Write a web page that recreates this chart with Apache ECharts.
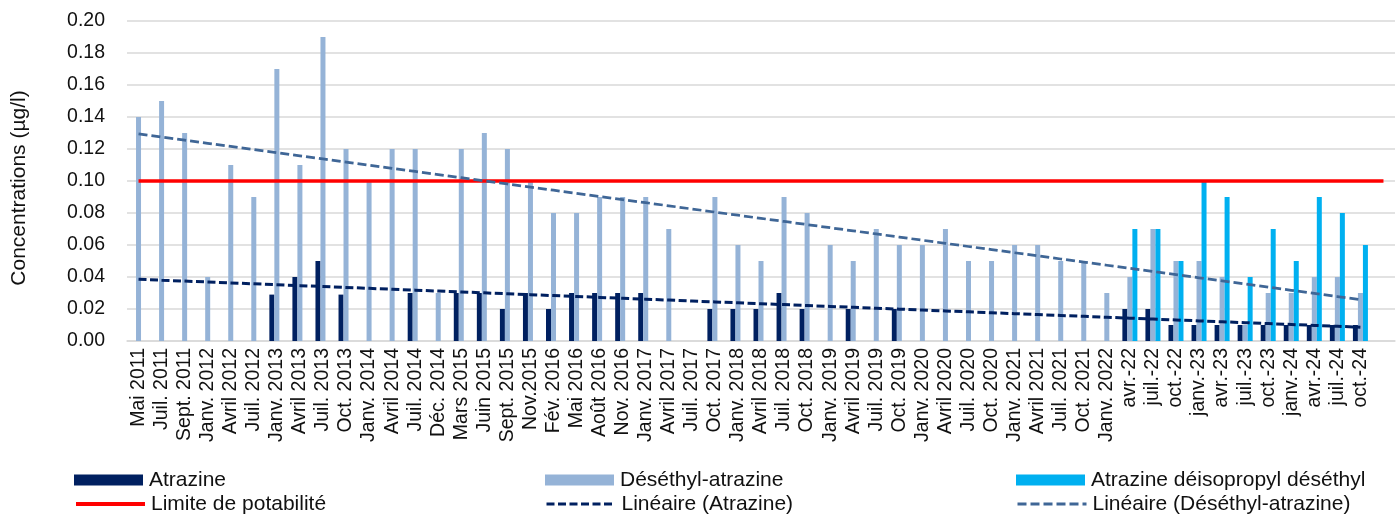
<!DOCTYPE html>
<html>
<head>
<meta charset="utf-8">
<script src="https://cdn.jsdelivr.net/npm/echarts@6/dist/echarts.min.js"></script>
<style>
  html, body { margin: 0; padding: 0; background: #fff; }
  #chart { width: 1400px; height: 514px; }
</style>
</head>
<body>
<div id="chart"></div>
<script>
// dates de prélèvement
const categories = ['Mai 2011','Juil. 2011','Sept. 2011','Janv. 2012','Avril 2012','Juil. 2012','Janv. 2013','Avril 2013','Juil. 2013','Oct. 2013',
  'Janv. 2014','Avril 2014','Juil. 2014','Déc. 2014','Mars 2015','Juin 2015','Sept. 2015','Nov.2015','Fév. 2016','Mai 2016',
  'Août 2016','Nov. 2016','Janv. 2017','Avril 2017','Juil. 2017','Oct. 2017','Janv. 2018','Avril 2018','Juil. 2018','Oct. 2018',
  'Janv. 2019','Avril 2019','Juil. 2019','Oct. 2019','Janv. 2020','Avril 2020','Juil. 2020','Oct. 2020','Janv. 2021','Avril 2021',
  'Juil. 2021','Oct. 2021','Janv. 2022','avr.-22','juil.-22','oct.-22','janv.-23','avr.-23','juil.-23','oct.-23',
  'janv.-24','avr.-24','juil.-24','oct.-24'];

// concentrations en µg/l (null = pas de valeur)
const atrazine = [null,null,null,null,null,null,0.029,0.04,0.05,0.029,
  null,null,0.03,null,0.03,0.03,0.02,0.03,0.02,0.03,
  0.03,0.03,0.03,null,null,0.02,0.02,0.02,0.03,0.02,
  null,0.02,null,0.02,null,null,null,null,null,null,
  null,null,null,0.02,0.02,0.01,0.01,0.01,0.01,0.01,
  0.01,0.01,0.01,0.01];

const desethylAtrazine = [0.14,0.15,0.13,0.04,0.11,0.09,0.17,0.11,0.19,0.12,
  0.10,0.12,0.12,0.03,0.12,0.13,0.12,0.10,0.08,0.08,
  0.09,0.09,0.09,0.07,null,0.09,0.06,0.05,0.09,0.08,
  0.06,0.05,0.07,0.06,0.06,0.07,0.05,0.05,0.06,0.06,
  0.05,0.05,0.03,0.04,0.07,0.05,0.05,0.04,0.01,0.03,
  0.03,0.04,0.04,0.03];

const atrazineDeisopropylDesethyl = [null,null,null,null,null,null,null,null,null,null,
  null,null,null,null,null,null,null,null,null,null,
  null,null,null,null,null,null,null,null,null,null,
  null,null,null,null,null,null,null,null,null,null,
  null,null,null,0.07,0.07,0.05,0.10,0.09,0.04,0.07,
  0.05,0.09,0.08,0.06];

const limitePotabilite = 0.1;
const yTicks = { min: 0, max: 0.2, interval: 0.02 };

// l'axe a une case vide en plus à droite (comme le graphique Excel)
const axisCategories = categories.concat(['']);

// tendance linéaire (moindres carrés sur l'indice, cases vides ignorées)
function linearTrend(values) {
  let n = 0, sx = 0, sy = 0, sxx = 0, sxy = 0;
  values.forEach((v, i) => {
    if (v == null) return;
    n++; sx += i; sy += v; sxx += i * i; sxy += i * v;
  });
  let slope = (n * sxy - sx * sy) / (n * sxx - sx * sx);
  let intercept = (sy - slope * sx) / n;
  return values.map((v, i) => intercept + slope * i);
}

let chart = echarts.init(document.getElementById('chart'));

const FONT = '"Liberation Sans", Arial, sans-serif';
const NAVY = '#002060';
const LIGHT = '#95B3D7';
const CYAN = '#00B0F0';
const TREND2 = '#3F6696';

function legendAt(name, left, top, icon, lineWidth) {
  let legend = {
    data: [{ name: name }],
    left: left,
    top: top,
    padding: 0,
    itemWidth: 69,
    itemHeight: 11,
    itemGap: 0,
    selectedMode: false,
    textStyle: { fontFamily: FONT, fontSize: 21, color: '#111', lineHeight: 22, padding: [0, 0, 0, 1] }
  };
  if (icon) {
    legend.data[0].icon = icon;
  } else {
    // ligne seule, sans symbole
    legend.itemStyle = { opacity: 0 };
    legend.lineStyle = { width: lineWidth };
  }
  return legend;
}

let option = {
  animation: false,
  backgroundColor: '#fff',
  grid: { left: 127, right: 5, top: 21, bottom: 173 },
  legend: [
    legendAt('Atrazine', 74, 469, 'rect'),
    legendAt('Déséthyl-atrazine', 545, 469, 'rect'),
    legendAt('Atrazine déisopropyl déséthyl', 1016, 469, 'rect'),
    legendAt('Limite de potabilité', 74, 493, null, 4),
    legendAt('Linéaire (Atrazine)', 545, 493, null, 3),
    legendAt('Linéaire (Déséthyl-atrazine)', 1016, 493, null, 3)
  ],
  xAxis: {
    type: 'category',
    data: axisCategories,
    boundaryGap: true,
    axisTick: { show: false },
    axisLine: { lineStyle: { color: '#D9D9D9', width: 1.5 } },
    axisLabel: {
      interval: 0,
      rotate: 90,
      margin: 7,
      fontFamily: FONT,
      fontSize: 19.5,
      color: '#111'
    }
  },
  yAxis: {
    type: 'value',
    min: yTicks.min,
    max: yTicks.max,
    interval: yTicks.interval,
    name: 'Concentrations (µg/l)',
    nameLocation: 'middle',
    nameRotate: 90,
    nameGap: 97,
    nameTextStyle: { fontFamily: FONT, fontSize: 21, color: '#111', padding: [0, 14, 0, 0] },
    axisLine: { show: false },
    axisTick: { show: false },
    splitLine: { lineStyle: { color: '#D9D9D9', width: 1.5 } },
    axisLabel: {
      margin: 22,
      fontFamily: FONT,
      fontSize: 19.5,
      color: '#111',
      formatter: v => v.toFixed(2)
    }
  },
  series: [
    {
      name: 'Atrazine',
      type: 'bar',
      data: atrazine,
      barWidth: 5,
      barGap: '0%',
      itemStyle: { color: NAVY }
    },
    {
      name: 'Déséthyl-atrazine',
      type: 'bar',
      data: desethylAtrazine,
      barWidth: 5,
      barGap: '0%',
      itemStyle: { color: LIGHT }
    },
    {
      name: 'Atrazine déisopropyl déséthyl',
      type: 'bar',
      data: atrazineDeisopropylDesethyl,
      barWidth: 5,
      barGap: '0%',
      itemStyle: { color: CYAN }
    },
    {
      name: 'Limite de potabilité',
      type: 'line',
      data: axisCategories.map(() => limitePotabilite),
      symbol: 'none',
      z: 5,
      itemStyle: { color: '#FF0000' },
      lineStyle: { color: '#FF0000', width: 3.5 }
    },
    {
      name: 'Linéaire (Atrazine)',
      type: 'line',
      data: linearTrend(atrazine),
      symbol: 'none',
      z: 6,
      itemStyle: { color: NAVY },
      lineStyle: { color: NAVY, width: 3, type: [8, 3.5] }
    },
    {
      name: 'Linéaire (Déséthyl-atrazine)',
      type: 'line',
      data: linearTrend(desethylAtrazine),
      symbol: 'none',
      z: 6,
      itemStyle: { color: TREND2 },
      lineStyle: { color: TREND2, width: 2.75, type: [9, 4] }
    }
  ]
};

chart.setOption(option);
</script>
</body>
</html>
